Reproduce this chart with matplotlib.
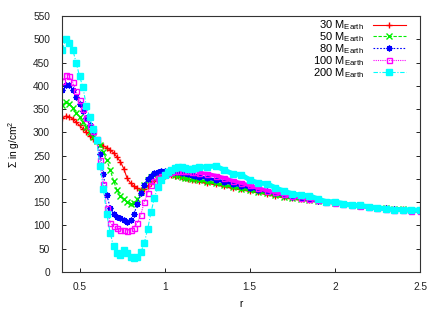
import matplotlib
matplotlib.use('Agg')
import matplotlib.pyplot as plt
import numpy as np

plt.rcParams['font.family'] = ['Liberation Sans', 'DejaVu Sans']
plt.rcParams['mathtext.fontset'] = 'custom'
plt.rcParams['mathtext.rm'] = 'Liberation Sans'
plt.rcParams['mathtext.it'] = 'Liberation Sans:italic'

# radius grid (fine in the gap region, coarser in the outer disc)
r = [0.40, 0.42, 0.44, 0.46, 0.48, 0.50, 0.52, 0.54, 0.56, 0.58,
     0.60, 0.62, 0.64, 0.66, 0.68, 0.70, 0.72, 0.74, 0.76, 0.78,
     0.80, 0.82, 0.84, 0.86, 0.88, 0.90, 0.92, 0.94, 0.96, 0.98,
     1.00, 1.02, 1.04, 1.06, 1.08, 1.10, 1.12, 1.14, 1.16, 1.18,
     1.20, 1.25, 1.30, 1.35, 1.40, 1.45, 1.50, 1.55, 1.60, 1.65,
     1.70, 1.75, 1.80, 1.85, 1.90, 1.95, 2.00, 2.05, 2.10, 2.15,
     2.20, 2.25, 2.30, 2.35, 2.40, 2.45, 2.50]

# surface density for each planet mass
sig30 = [331, 335, 334, 329, 322, 315, 308, 301, 293, 286,
         280, 275, 271, 267, 262, 256, 247, 237, 222, 201,
         191, 184, 180, 177, 179, 184, 191, 196, 200, 204,
         207, 208, 208, 207, 206, 204, 202, 200, 198, 197,
         195, 192, 189, 185, 181, 178, 175, 171, 168, 164,
         161, 158, 156, 154, 152, 150, 148, 146, 144, 142,
         140, 138, 137, 136, 135, 134, 133]
sig50 = [358, 365, 362, 353, 342, 333, 322, 311, 300, 291,
         282, 273, 258, 240, 220, 196, 176, 163, 156, 151,
         147, 148, 157, 171, 187, 198, 205, 209, 211, 212,
         213, 213, 210, 208, 207, 205, 203, 201, 200, 199,
         198, 194, 191, 187, 183, 179, 176, 172, 169, 165,
         162, 159, 156, 154, 152, 150, 148, 146, 144, 142,
         140, 138, 137, 136, 135, 134, 133]
sig80 = [392, 402, 401, 390, 375, 362, 346, 330, 316, 300,
         283, 254, 210, 166, 138, 124, 118, 116, 112, 108,
         112, 124, 147, 170, 187, 200, 207, 212, 215, 216,
         217, 217, 216, 215, 214, 213, 212, 210, 209, 207,
         205, 201, 198, 194, 189, 185, 181, 177, 173, 169,
         165, 162, 159, 156, 153, 151, 149, 146, 144, 142,
         140, 138, 137, 135, 134, 133, 132]
sig100 = [410, 424, 422, 408, 388, 370, 350, 330, 314, 302,
          285, 240, 190, 138, 106, 98, 94, 91, 90, 89,
          91, 95, 106, 123, 150, 170, 186, 196, 202, 206,
          210, 212, 214, 216, 218, 218, 217, 216, 215, 214,
          213, 211, 207, 202, 196, 191, 186, 180, 175, 171,
          167, 163, 160, 157, 154, 151, 149, 146, 144, 141,
          139, 137, 135, 134, 133, 132, 131]
sig200 = [478, 501, 492, 478, 450, 421, 397, 357, 332, 307,
          284, 228, 178, 125, 84, 55, 40, 36, 47, 40,
          32, 30, 32, 42, 62, 92, 128, 160, 182, 197,
          208, 214, 219, 223, 226, 226, 224, 222, 222, 223,
          225, 226, 228, 219, 211, 209, 198, 191, 190, 181,
          174, 168, 165, 164, 157, 151, 151, 147, 143, 143,
          140, 138, 136, 134, 134, 133, 133]

labels = ['30 M$_{\\rm Earth}$', '50 M$_{\\rm Earth}$', '80 M$_{\\rm Earth}$',
          '100 M$_{\\rm Earth}$', '200 M$_{\\rm Earth}$']
xtick_vals = [0.5, 1, 1.5, 2, 2.5]
xtick_labels = ['0.5', '1', '1.5', '2', '2.5']
ytick_vals = [0, 50, 100, 150, 200, 250, 300, 350, 400, 450, 500, 550]

fig = plt.figure(figsize=(4.42, 3.09), dpi=100)
ax = fig.add_axes([0.1414, 0.1197, 0.8088, 0.8285])

r_arr = np.array(r)
outer = r_arr >= 1.2

series = [sig30, sig50, sig80, sig100, sig200]
colors = ['#ff0000', '#00ee00', '#0000ff', '#ff00ff', '#00ffff']
styles = ['-', (0, (3, 1.5)), (0, (1.5, 1.5)), (0, (1, 1)), (0, (4, 1.5, 1, 1.5))]
markers = ['+', 'x', (8, 2, 0), 's', 's']
msizes = [4.6, 3.8, 4.2, 3.6, 3.8]
fills = ['full', 'full', 'full', 'none', 'full']
bands = [2.0, 2.0, 2.2, 2.8, 3.6]

for s, c, ls, m, ms, fs, bw, lab in zip(series, colors, styles, markers, msizes,
                                         fills, bands, labels):
    s_arr = np.array(s)
    # outer disc: densely sampled points show as a thick band
    ax.plot(r_arr[outer], s_arr[outer], color=c, lw=bw, solid_capstyle='butt')
    ax.plot(r_arr, s_arr, color=c, linestyle=ls, lw=0.8, marker=m, ms=ms,
            fillstyle=fs, mew=1.0, label=lab)

ax.set_xlim(0.4, 2.5)
ax.set_ylim(0, 550)
ax.set_xticks(xtick_vals)
ax.set_xticklabels(xtick_labels)
ax.set_yticks(ytick_vals)
ax.tick_params(axis='both', direction='in', length=3, width=0.7,
               labelsize=7.3, colors='#222222')
ax.tick_params(axis='y', right=True, pad=9)
ax.tick_params(axis='x', pad=7)
for sp in ax.spines.values():
    sp.set_color('#333333')
    sp.set_linewidth(0.8)

ax.set_xlabel('r', fontsize=7.3, labelpad=5)
ax.set_ylabel('Σ in g/cm$^2$', fontsize=7.3, labelpad=8)

ax.legend(loc='upper right', bbox_to_anchor=(0.973, 1.008), borderaxespad=0,
          frameon=False, markerfirst=False, numpoints=1, fontsize=8,
          handlelength=3.0, handletextpad=0.75, labelspacing=-0.17)

fig.savefig('out.png', dpi=100)
